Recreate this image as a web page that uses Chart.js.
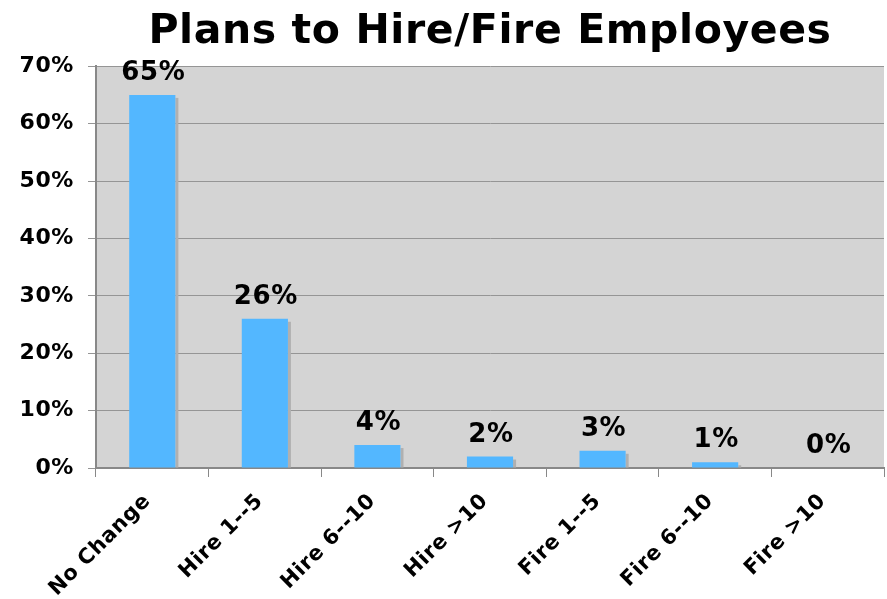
<!DOCTYPE html>
<html>
<head>
<meta charset="utf-8">
<script src="https://cdn.jsdelivr.net/npm/chart.js@4.4.1/dist/chart.umd.min.js"></script>
<style>
  html, body { margin: 0; padding: 0; background: #fff; }
  #wrap { width: 887px; height: 599px; }
</style>
</head>
<body>
<div id="wrap"><canvas id="hireFire" width="887" height="599"></canvas></div>
<script>
// categories and survey answers (percent of respondents)
var categories = ["No Change", "Hire 1--5", "Hire 6--10", "Hire >10", "Fire 1--5", "Fire 6--10", "Fire >10"];
var answers = [65, 26, 4, 2, 3, 1, 0];
var yTicks = [0, 10, 20, 30, 40, 50, 60, 70];

var FONT = "'DejaVu Sans', Verdana, sans-serif";

// a touch wider lettering, closer to Verdana
function spaceLetters(chart) {
  chart.ctx.letterSpacing = '0.6px';
}

// grey plot background, little drop shadow right of each bar, value labels
var plotDecor = {
  id: 'plotDecor',
  beforeUpdate: spaceLetters,
  beforeDraw: function (chart) {
    spaceLetters(chart);
    var a = chart.chartArea, ctx = chart.ctx;
    ctx.save();
    ctx.fillStyle = '#d4d4d4';
    ctx.fillRect(a.left, a.top, a.right - a.left, a.bottom - a.top);
    ctx.restore();
  },
  beforeDatasetsDraw: function (chart) {
    var ctx = chart.ctx;
    var meta = chart.getDatasetMeta(0);
    ctx.save();
    ctx.fillStyle = '#b0b0b0';
    meta.data.forEach(function (bar) {
      var h = bar.base - bar.y;
      if (h <= 0) return;
      ctx.fillRect(bar.x + bar.width / 2, bar.y + 3, 3, h - 3);
    });
    ctx.restore();
  },
  afterDatasetsDraw: function (chart) {
    var ctx = chart.ctx;
    var meta = chart.getDatasetMeta(0);
    ctx.save();
    ctx.fillStyle = '#000';
    ctx.font = 'bold 26px ' + FONT;
    ctx.textAlign = 'center';
    ctx.textBaseline = 'alphabetic';
    meta.data.forEach(function (bar, i) {
      ctx.fillText(answers[i] + '%', bar.x + 1, bar.y - 15);
    });
    ctx.restore();
  }
};

var ctx = document.getElementById('hireFire');
var hireChart = new Chart(ctx, {
  type: 'bar',
  data: {
    labels: categories,
    datasets: [{
      data: answers,
      backgroundColor: '#53b7ff',
      borderWidth: 0,
      categoryPercentage: 1.0,
      barPercentage: 0.41
    }]
  },
  options: {
    responsive: false,
    animation: false,
    layout: { padding: { left: 0, right: 3, top: 0, bottom: 0 } },
    plugins: {
      legend: { display: false },
      tooltip: { enabled: false },
      title: {
        display: true,
        fullSize: false,
        text: 'Plans to Hire/Fire Employees',
        color: '#000',
        font: { family: FONT, size: 41, weight: 'bold', lineHeight: 1.2 },
        padding: { top: 8, bottom: 9 }
      }
    },
    scales: {
      x: {
        grid: {
          offset: true,
          drawOnChartArea: false,
          drawTicks: true,
          tickLength: 9,
          color: '#888'
        },
        border: { color: '#888', width: 2 },
        ticks: {
          color: '#000',
          font: { family: FONT, size: 21, weight: 'bold' },
          minRotation: 45,
          maxRotation: 45,
          padding: 12,
          labelOffset: -5
        },
        afterFit: function (scale) { scale.height = 131; }
      },
      y: {
        min: 0,
        max: 70,
        afterBuildTicks: function (scale) {
          scale.ticks = yTicks.map(function (v) { return { value: v }; });
        },
        grid: {
          color: '#959595',
          lineWidth: 1,
          tickLength: 8
        },
        border: { color: '#888', width: 2 },
        ticks: {
          color: '#000',
          font: { family: FONT, size: 22, weight: 'bold' },
          padding: 14,
          callback: function (v) { return v + '%'; }
        },
        afterFit: function (scale) { scale.width = 96; }
      }
    }
  },
  plugins: [plotDecor]
});
</script>
</body>
</html>
